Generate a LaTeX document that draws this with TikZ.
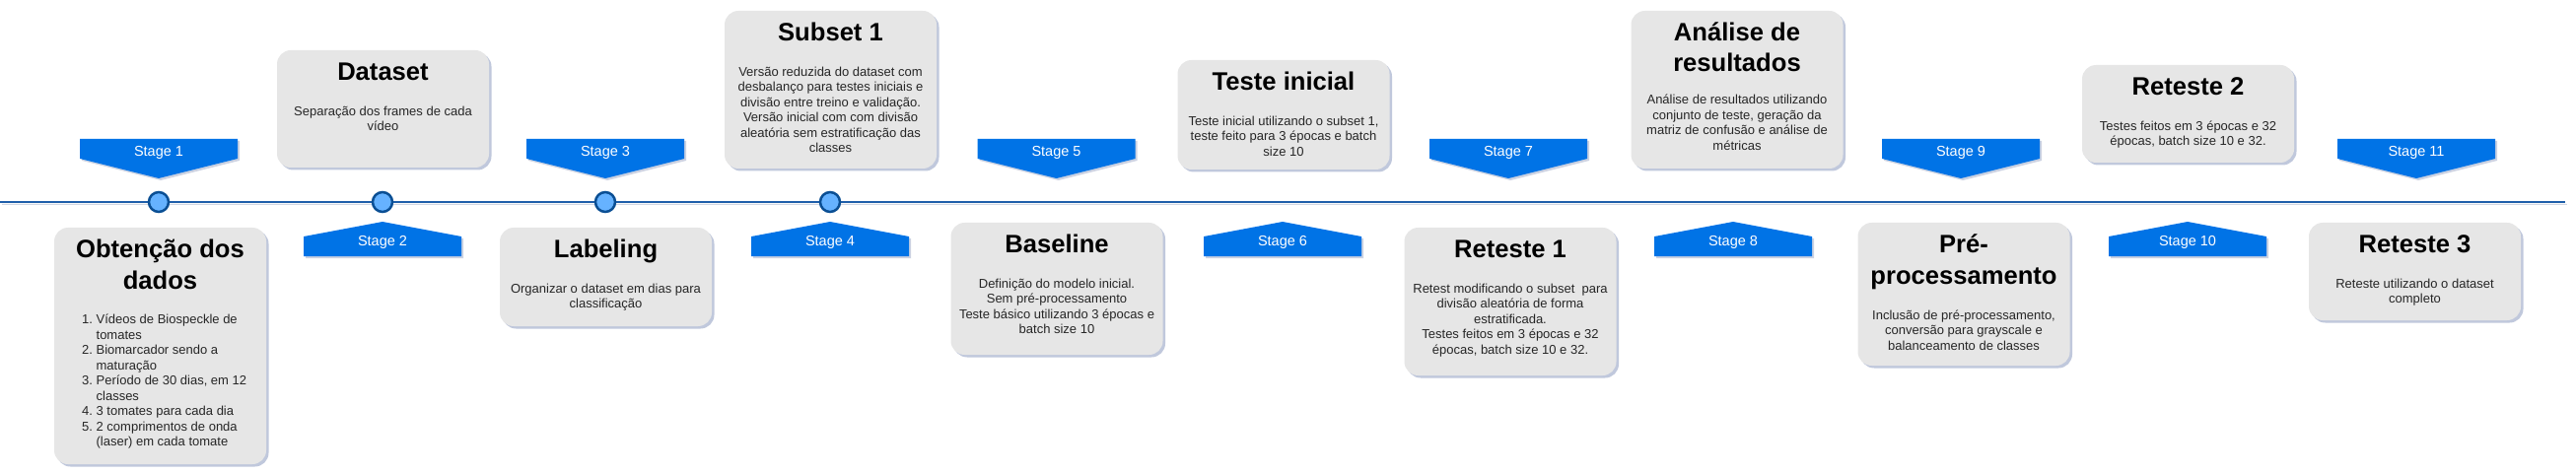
\documentclass[tikz,border=0pt]{standalone}
\usepackage{fontspec}
\setmainfont{Liberation Sans}
\usepackage{xcolor}
\usetikzlibrary{positioning,shadows}
\definecolor{cardgray}{HTML}{E6E6E6}
\definecolor{stageblue}{HTML}{0073E6}
\definecolor{dotfill}{HTML}{66B2FF}
\definecolor{dotborder}{HTML}{0B4F94}
\definecolor{lineblue}{HTML}{1F5FAA}
\definecolor{shadowblue}{HTML}{8D9BBF}
\definecolor{bodytext}{HTML}{262626}
\tikzset{
  card/.style      = {rounded corners=14pt, fill=cardgray, minimum width=215pt,
                      drop shadow={shadow xshift=2.5pt, shadow yshift=-2.5pt, fill=shadowblue, opacity=0.55}},
  cardtitle/.style = {font=\fontsize{25.6}{31.7}\selectfont\bfseries, align=center, inner sep=0pt, anchor=base},
  cardbody/.style  = {font=\fontsize{13}{15.5}\selectfont, text=bodytext, align=center, inner sep=0pt, anchor=base},
  banner/.style    = {fill=stageblue, drop shadow={shadow xshift=2pt, shadow yshift=-2pt, fill=shadowblue, opacity=0.45}},
  stagelabel/.style = {text=white, font=\fontsize{14.5}{17}\selectfont, inner sep=0pt},
  dot/.style       = {circle, draw=dotborder, line width=2.5pt, fill=dotfill, minimum size=20pt, inner sep=0pt},
  timeline/.style  = {draw=lineblue, line width=2.5pt,
                      drop shadow={shadow xshift=1.5pt, shadow yshift=-2pt, draw=shadowblue, opacity=0.4}},
}

\begin{document}
\begin{tikzpicture}[x=1pt,y=-1pt]
  \useasboundingbox (0,0) rectangle (2613,481);

  % timeline
  \coordinate (tl0) at (0,205);
  \coordinate (tl1) at (2602,205);
  \draw[timeline] (tl0) -- (tl1);
  \node[dot] (d1) at (161,205) {};
  \node[dot] (d2) at (388,205) {};
  \node[dot] (d3) at (614,205) {};
  \node[dot] (d4) at (842,205) {};

  % stage banners (odd above, even below)
  \fill[banner] (81,141) -- ++(160,0) -- ++(0,20) -- ++(-80,20) -- ++(-80,-20) -- cycle;
  \node[stagelabel] (s1) at (161,155) {Stage 1};
  \fill[banner] (388,225) -- ++(80,15) -- ++(0,20) -- ++(-160,0) -- ++(0,-20) -- cycle;
  \node[stagelabel] (s2) at (388,246) {Stage 2};
  \fill[banner] (534,141) -- ++(160,0) -- ++(0,20) -- ++(-80,20) -- ++(-80,-20) -- cycle;
  \node[stagelabel] (s3) at (614,155) {Stage 3};
  \fill[banner] (842,225) -- ++(80,15) -- ++(0,20) -- ++(-160,0) -- ++(0,-20) -- cycle;
  \node[stagelabel] (s4) at (842,246) {Stage 4};
  \fill[banner] (991.5,141) -- ++(160,0) -- ++(0,20) -- ++(-80,20) -- ++(-80,-20) -- cycle;
  \node[stagelabel] (s5) at (1071.5,155) {Stage 5};
  \fill[banner] (1301,225) -- ++(80,15) -- ++(0,20) -- ++(-160,0) -- ++(0,-20) -- cycle;
  \node[stagelabel] (s6) at (1301,246) {Stage 6};
  \fill[banner] (1450,141) -- ++(160,0) -- ++(0,20) -- ++(-80,20) -- ++(-80,-20) -- cycle;
  \node[stagelabel] (s7) at (1530,155) {Stage 7};
  \fill[banner] (1758,225) -- ++(80,15) -- ++(0,20) -- ++(-160,0) -- ++(0,-20) -- cycle;
  \node[stagelabel] (s8) at (1758,246) {Stage 8};
  \fill[banner] (1909,141) -- ++(160,0) -- ++(0,20) -- ++(-80,20) -- ++(-80,-20) -- cycle;
  \node[stagelabel] (s9) at (1989,155) {Stage 9};
  \fill[banner] (2219,225) -- ++(80,15) -- ++(0,20) -- ++(-160,0) -- ++(0,-20) -- cycle;
  \node[stagelabel] (s10) at (2219,246) {Stage 10};
  \fill[banner] (2371,141) -- ++(160,0) -- ++(0,20) -- ++(-80,20) -- ++(-80,-20) -- cycle;
  \node[stagelabel] (s11) at (2451,155) {Stage 11};

  % cards (text nodes sit on the baseline of their last line)
  \node[card, minimum height=240pt] (k1) at (162.5,351) {};
  \node[cardtitle] (t1) at ([yshift=-62.2pt]k1.north) {Obtenção dos\\dados};
  \node[inner sep=0pt, anchor=base west, font=\fontsize{13}{15.5}\selectfont, text=bodytext] (b1)
    at (83,328.7) {\begin{tabular}[t]{@{}r@{\hspace{3.6pt}}l@{}}
      1. & Vídeos de Biospeckle de\\ & tomates\\
      2. & Biomarcador sendo a\\ & maturação\\
      3. & Período de 30 dias, em 12\\ & classes\\
      4. & 3 tomates para cada dia\\
      5. & 2 comprimentos de onda\\ & (laser) em cada tomate
    \end{tabular}};

  \node[card, minimum height=119pt] (k2) at (388.5,110.5) {};
  \node[cardtitle] (t2) at ([yshift=-30.5pt]k2.north) {Dataset};
  \node[cardbody] (b2) at ([yshift=-51.5pt]t2.base) {Separação dos frames de cada\\vídeo};

  \node[card, minimum height=100pt] (k3) at (614.5,281) {};
  \node[cardtitle] (t3) at ([yshift=-30.5pt]k3.north) {Labeling};
  \node[cardbody] (b3) at ([yshift=-51.5pt]t3.base) {Organizar o dataset em dias para\\classificação};

  \node[card, minimum height=160pt] (k4) at (842.5,91) {};
  \node[cardtitle] (t4) at ([yshift=-30.5pt]k4.north) {Subset 1};
  \node[cardbody] (b4) at ([yshift=-113.5pt]t4.base) {Versão reduzida do dataset com\\desbalanço para testes iniciais e\\divisão entre treino e validação.\\Versão inicial com com divisão\\aleatória sem estratificação das\\classes};

  \node[card, minimum height=134pt] (k5) at (1072,293) {};
  \node[cardtitle] (t5) at ([yshift=-30.5pt]k5.north) {Baseline};
  \node[cardbody] (b5) at ([yshift=-82.5pt]t5.base) {Definição do modelo inicial.\\Sem pré-processamento\\Teste básico utilizando 3 épocas e\\batch size 10};

  \node[card, minimum height=111pt] (k6) at (1302,116.5) {};
  \node[cardtitle] (t6) at ([yshift=-30.5pt]k6.north) {Teste inicial};
  \node[cardbody] (b6) at ([yshift=-67pt]t6.base) {Teste inicial utilizando o subset 1,\\teste feito para 3 épocas e batch\\size 10};

  \node[card, minimum height=150pt] (k7) at (1532,306) {};
  \node[cardtitle] (t7) at ([yshift=-30.5pt]k7.north) {Reteste 1};
  \node[cardbody] (b7) at ([yshift=-98pt]t7.base) {Retest modificando o subset\ \ para\\divisão aleatória de forma\\estratificada.\\Testes feitos em 3 épocas e 32\\épocas, batch size 10 e 32.};

  \node[card, minimum height=160pt] (k8) at (1762,91) {};
  \node[cardtitle] (t8) at ([yshift=-62.2pt]k8.north) {Análise de\\resultados};
  \node[cardbody] (b8) at ([yshift=-79.5pt]t8.base) {Análise de resultados utilizando\\conjunto de teste, geração da\\matriz de confusão e análise de\\métricas};

  \node[card, minimum height=145pt] (k9) at (1992,298.5) {};
  \node[cardtitle] (t9) at ([yshift=-62.2pt]k9.north) {Pré-\\processamento};
  \node[cardbody] (b9) at ([yshift=-67pt]t9.base) {Inclusão de pré-processamento,\\conversão para grayscale e\\balanceamento de classes};

  \node[card, minimum height=99pt] (k10) at (2219.5,115.5) {};
  \node[cardtitle] (t10) at ([yshift=-30.5pt]k10.north) {Reteste 2};
  \node[cardbody] (b10) at ([yshift=-51.5pt]t10.base) {Testes feitos em 3 épocas e 32\\épocas, batch size 10 e 32.};

  \node[card, minimum height=99pt] (k11) at (2449.5,275.5) {};
  \node[cardtitle] (t11) at ([yshift=-30.5pt]k11.north) {Reteste 3};
  \node[cardbody] (b11) at ([yshift=-51.5pt]t11.base) {Reteste utilizando o dataset\\completo};
\end{tikzpicture}
\end{document}
